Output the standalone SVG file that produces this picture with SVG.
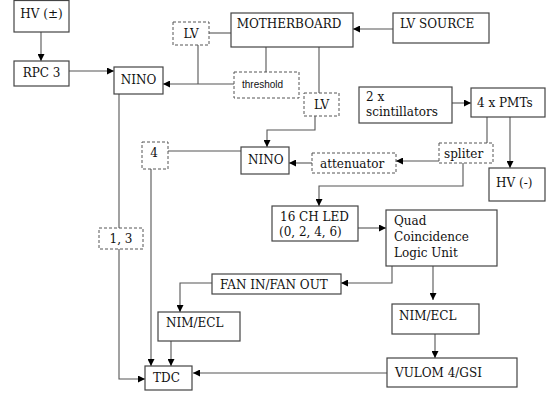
<svg xmlns="http://www.w3.org/2000/svg" width="546" height="394" viewBox="0 0 546 394">
<defs>
<marker id="ah" viewBox="0 0 10 10" refX="10" refY="5" markerWidth="7" markerHeight="7" markerUnits="userSpaceOnUse" orient="auto">
<path d="M0,0 L10,5 L0,10 z" fill="#000"/>
</marker>
<style>
.b{fill:#fff;stroke:#444;stroke-width:1.2}
.d{fill:#fff;stroke:#555;stroke-width:1;stroke-dasharray:3,2}
.t{font-family:"DejaVu Serif","Liberation Serif",serif;font-size:12px;fill:#111}
.s{font-family:"Liberation Sans","DejaVu Sans",sans-serif;font-size:10px;fill:#111}
.c{fill:none;stroke:#555;stroke-width:1.1}
.a{marker-end:url(#ah)}
</style>
</defs>
<rect width="546" height="394" fill="#fff"/>
<g id="connectors">
<path class="c a" d="M41,32 V61"/>
<path class="c a" d="M69,71 H114"/>
<path class="c a" d="M234,84 H163"/>
<path class="c" d="M198,45 V84"/>
<path class="c" d="M209,33 H231"/>
<path class="c a" d="M393,29 H353"/>
<path class="c" d="M266,47 V72"/>
<path class="c" d="M319,47 V93"/>
<path class="c a" d="M315,116 V130 H267 V147"/>
<path class="c" d="M168,151 H241"/>
<path class="c a" d="M151,169 V366"/>
<path class="c" d="M119,94 V228"/>
<path class="c a" d="M119,249 V379 H145"/>
<path class="c a" d="M452,103 H471"/>
<path class="c" d="M487,117 V143"/>
<path class="c a" d="M510,117 V168"/>
<path class="c a" d="M439,161 H396"/>
<path class="c a" d="M312,163 H289"/>
<path class="c a" d="M463,163 V186 H319 V206"/>
<path class="c a" d="M358,228 H386"/>
<path class="c a" d="M392,266 V283 H341"/>
<path class="c a" d="M433,266 V300"/>
<path class="c a" d="M212,283 H180 V312"/>
<path class="c a" d="M171,341 V366"/>
<path class="c a" d="M435,334 V358"/>
<path class="c a" d="M387,373 H193"/>
</g>
<g id="hv_pm"><rect class="b" x="14" y="0.5" width="55" height="31.5"/><text class="t" x="41.5" y="18" text-anchor="middle">HV (±)</text></g>
<g id="rpc3"><rect class="b" x="14" y="61" width="55" height="25"/><text class="t" x="41.5" y="77" text-anchor="middle">RPC 3</text></g>
<g id="nino1"><rect class="b" x="114" y="67" width="49" height="27"/><text class="t" x="138.5" y="84" text-anchor="middle">NINO</text></g>
<g id="lv1"><rect class="d" x="173" y="22" width="36" height="23"/><text class="t" x="191" y="38" text-anchor="middle">LV</text></g>
<g id="motherboard"><rect class="b" x="231" y="13" width="122" height="34"/><text class="t" x="289" y="28" text-anchor="middle">MOTHERBOARD</text></g>
<g id="lv_source"><rect class="b" x="393" y="13" width="96" height="30"/><text class="t" x="400" y="28">LV SOURCE</text></g>
<g id="threshold"><rect class="d" x="234" y="72" width="65" height="26"/><text class="s" x="242" y="88">threshold</text></g>
<g id="lv2"><rect class="d" x="304" y="93" width="35" height="23"/><text class="t" x="321.5" y="109" text-anchor="middle">LV</text></g>
<g id="scint"><rect class="b" x="359" y="87" width="93" height="36"/><text class="t" x="366" y="101">2 x</text><text class="t" x="366" y="116">scintillators</text></g>
<g id="pmts"><rect class="b" x="471" y="88" width="74" height="29"/><text class="t" x="477" y="107">4 x PMTs</text></g>
<g id="four"><rect class="d" x="142" y="142" width="26" height="27"/><text class="t" x="154" y="157" text-anchor="middle">4</text></g>
<g id="nino2"><rect class="b" x="241" y="147" width="48" height="27"/><text class="t" x="248" y="164">NINO</text></g>
<g id="attenuator"><rect class="d" x="312" y="153" width="84" height="20"/><text class="t" x="320" y="168">attenuator</text></g>
<g id="spliter"><rect class="d" x="439" y="143" width="54" height="20"/><text class="t" x="444" y="158">spliter</text></g>
<g id="hv_neg"><rect class="b" x="489" y="168" width="56" height="33"/><text class="t" x="496" y="187">HV (-)</text></g>
<g id="led"><rect class="b" x="272" y="206" width="86" height="35"/><text class="t" x="280" y="221">16 CH LED</text><text class="t" x="279" y="236">(0, 2, 4, 6)</text></g>
<g id="quad"><rect class="b" x="386" y="210" width="111" height="56"/><text class="t" x="394" y="225">Quad</text><text class="t" x="394" y="241">Coincidence</text><text class="t" x="394" y="257">Logic Unit</text></g>
<g id="one_three"><rect class="d" x="99" y="228" width="44" height="21"/><text class="t" x="121" y="243" text-anchor="middle">1, 3</text></g>
<g id="fan"><rect class="b" x="212" y="274" width="129" height="20"/><text class="t" x="220" y="289">FAN IN/FAN OUT</text></g>
<g id="nimecl1"><rect class="b" x="158" y="312" width="82" height="29"/><text class="t" x="166" y="327">NIM/ECL</text></g>
<g id="nimecl2"><rect class="b" x="392" y="304" width="87" height="30"/><text class="t" x="399" y="320">NIM/ECL</text></g>
<g id="tdc"><rect class="b" x="145" y="366" width="47" height="24"/><text class="t" x="153" y="382">TDC</text></g>
<g id="vulom"><rect class="b" x="387" y="358" width="130" height="29"/><text class="t" x="395" y="377">VULOM 4/GSI</text></g>
</svg>
